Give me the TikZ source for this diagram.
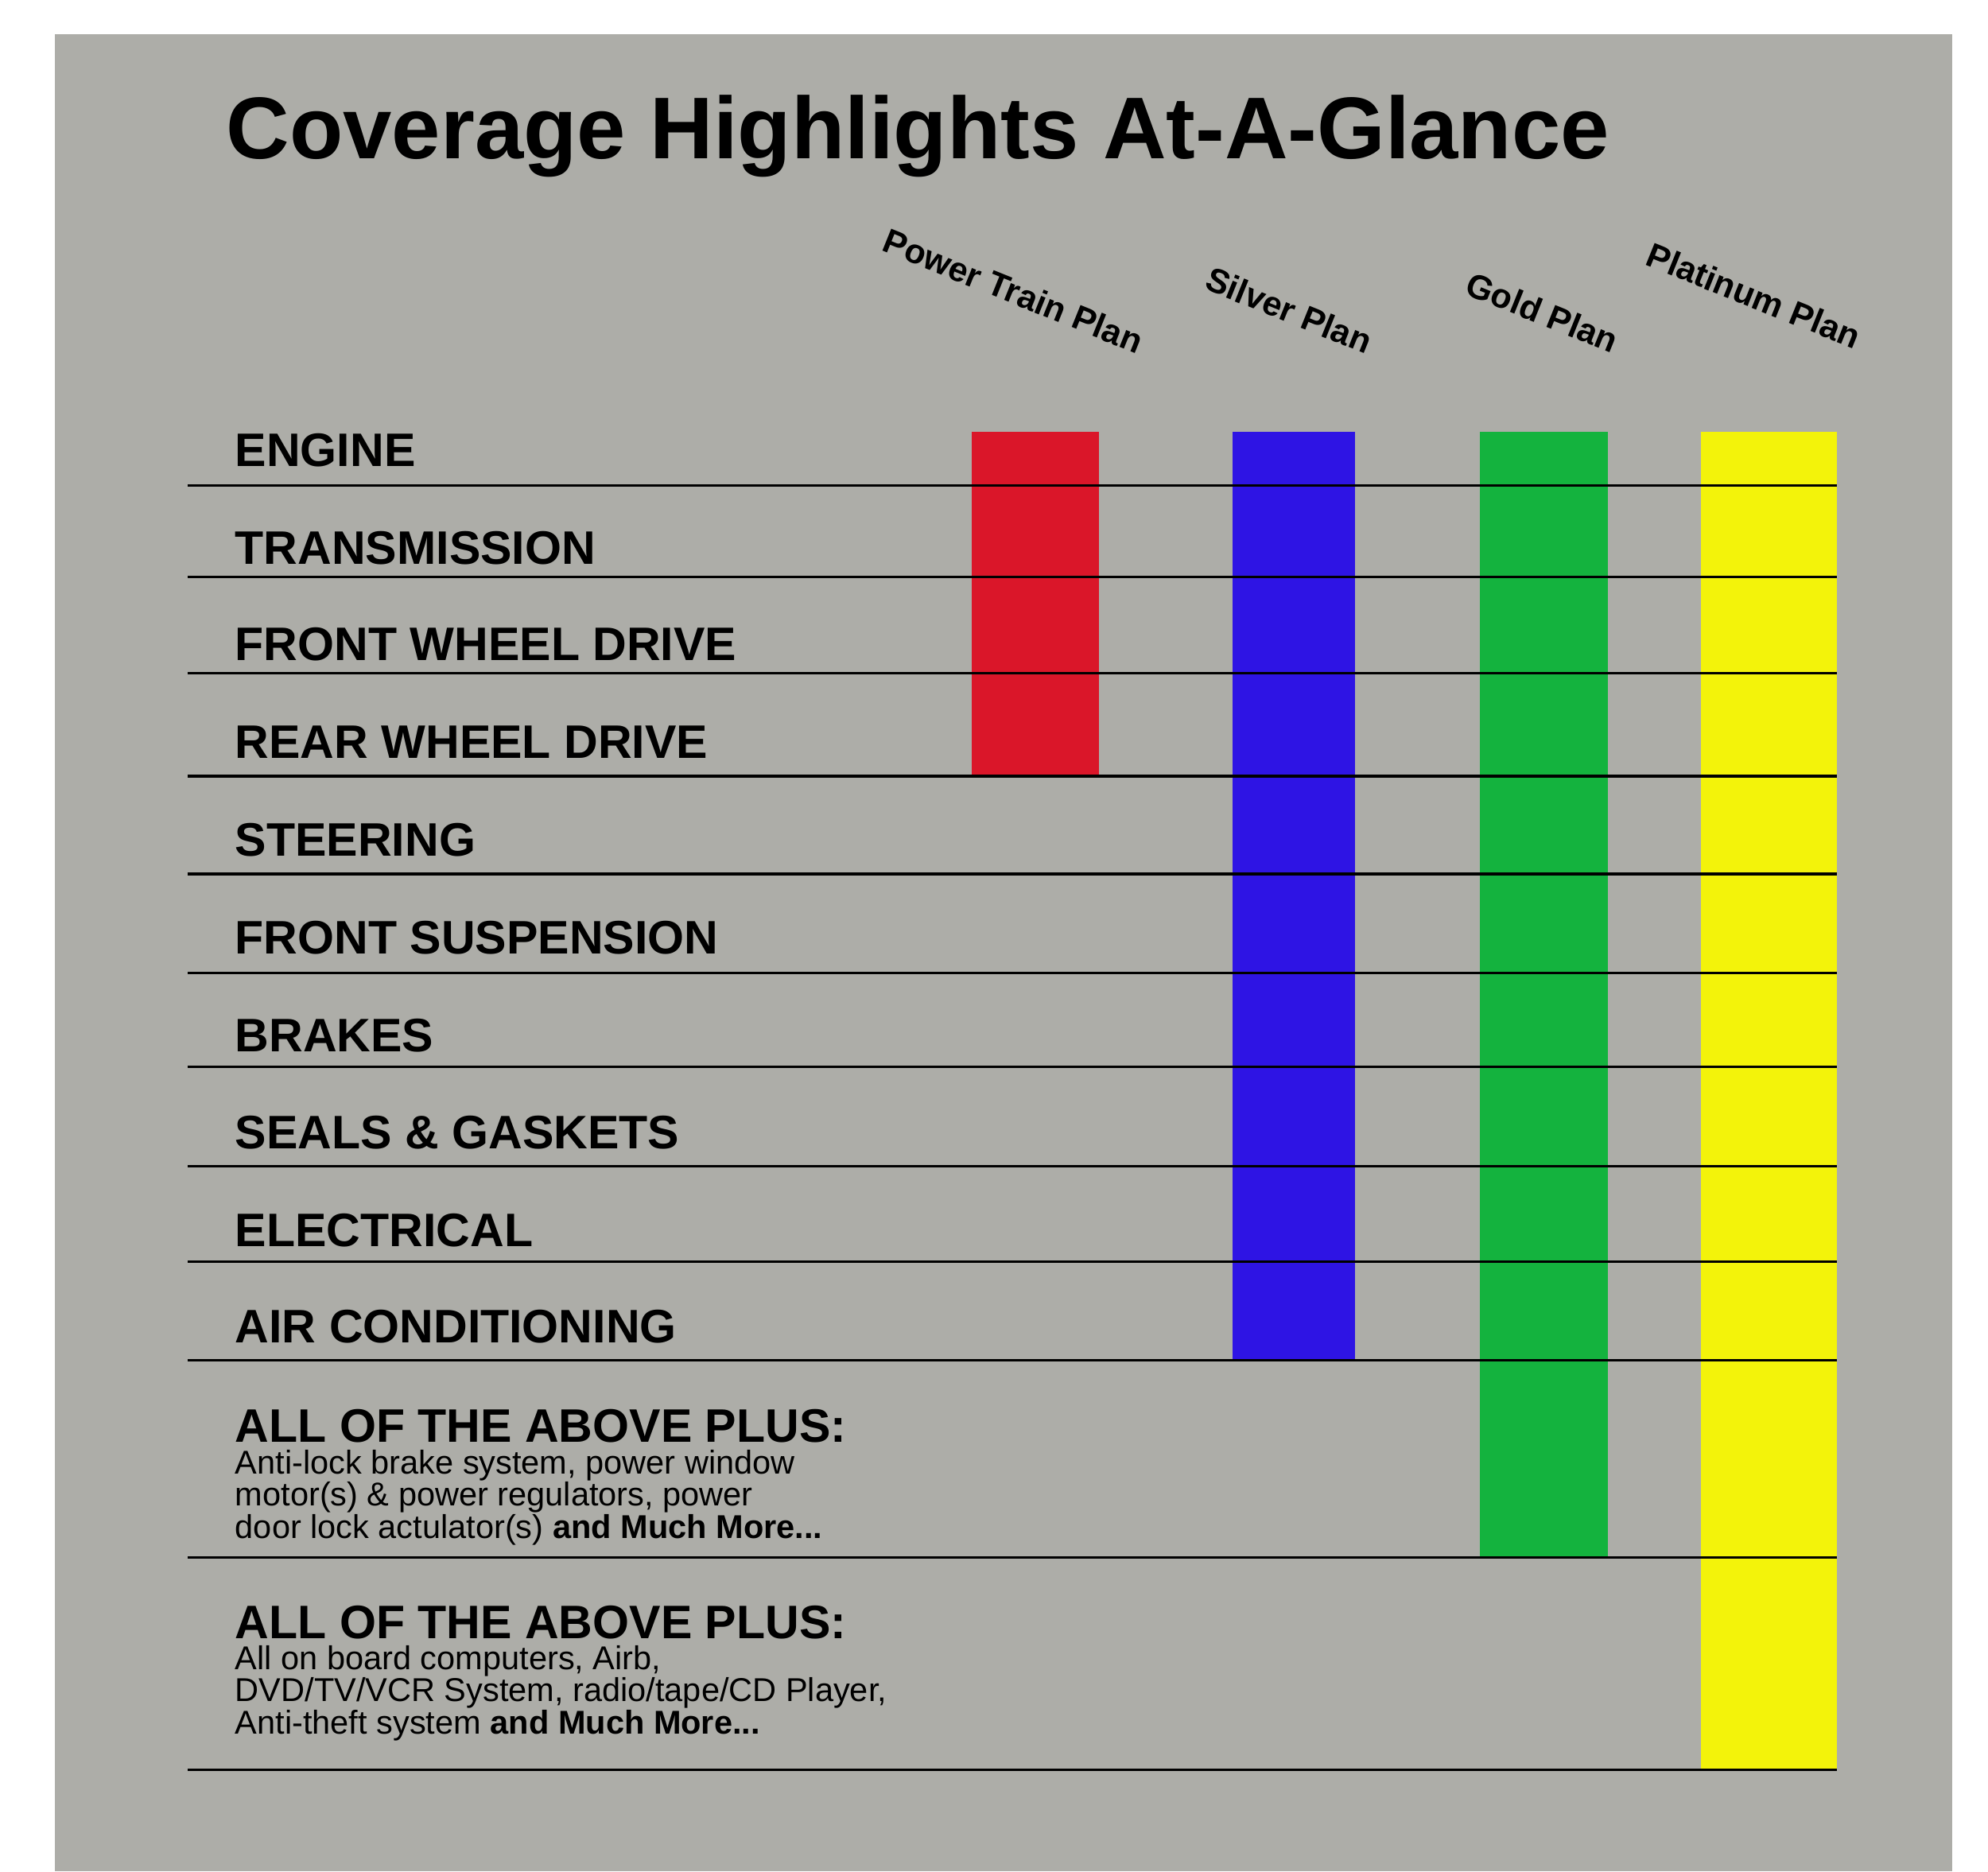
\documentclass[tikz,border=0pt]{standalone}
\usepackage{fontspec}
\setmainfont{Liberation Sans}
\definecolor{bg}{HTML}{ADADA8}
\definecolor{cred}{HTML}{DA1629}
\definecolor{cblue}{HTML}{2E14E4}
\definecolor{cgreen}{HTML}{14B33E}
\definecolor{cyellow}{HTML}{F3F30A}
\begin{document}
\begin{tikzpicture}[x=1pt,y=-1pt,
  lab/.style={anchor=base west,inner sep=0,font=\fontsize{37}{40}\selectfont\bfseries},
  sub/.style={anchor=base west,inner sep=0,align=left,font=\fontsize{26}{25.5}\selectfont},
  hd/.style={anchor=base west,inner sep=0,rotate=-22,font=\fontsize{27}{30}\selectfont\bfseries},
  rule/.style={line width=2pt}]
\useasboundingbox (0,0) rectangle (1565,1473);
\fill[bg] (43,27) rectangle (1537,1473);
\node[anchor=base west,inner sep=0,font=\fontsize{69}{72}\selectfont\bfseries] (title) at (178,125) {Coverage Highlights At-A-Glance};
\node[hd] (h1) at (693,197) {Power Train Plan};
\node[hd] (h2) at (947,227) {Silver Plan};
\node[hd] (h3) at (1152,231) {Gold Plan};
\node[hd] (h4) at (1294,208) {Platinum Plan};
\fill[cred] (765,340) rectangle (865,610);
\fill[cblue] (970,340) rectangle (1067,1070);
\fill[cgreen] (1165,340) rectangle (1266,1225);
\fill[cyellow] (1339,340) rectangle (1446,1393);
\foreach \y in {382,454,530,611,688,766,840,918,993,1071,1226,1393}
  \draw[rule] (148,\y) -- (1446,\y);
\node[lab] (l1) at (185,367) {ENGINE};
\node[lab] (l2) at (185,444) {TRANSMISSION};
\node[lab] (l3) at (185,520) {FRONT WHEEL DRIVE};
\node[lab] (l4) at (185,597) {REAR WHEEL DRIVE};
\node[lab] (l5) at (185,674) {STEERING};
\node[lab] (l6) at (185,751) {FRONT SUSPENSION};
\node[lab] (l7) at (185,828) {BRAKES};
\node[lab] (l8) at (185,904) {SEALS \& GASKETS};
\node[lab] (l9) at (185,981) {ELECTRICAL};
\node[lab] (l10) at (185,1057) {AIR CONDITIONING};
\node[lab] (l11) at (185,1135) {ALL OF THE ABOVE PLUS:};
\node[sub] (s11) at (185,1211) {Anti-lock brake system, power window\\motor(s) \& power regulators, power\\door lock actulator(s) \textbf{and Much More...}};
\node[lab] (l12) at (185,1290) {ALL OF THE ABOVE PLUS:};
\node[sub] (s12) at (185,1365) {All on board computers, Airb,\\DVD/TV/VCR System, radio/tape/CD Player,\\Anti-theft system \textbf{and Much More...}};
\end{tikzpicture}
\end{document}
